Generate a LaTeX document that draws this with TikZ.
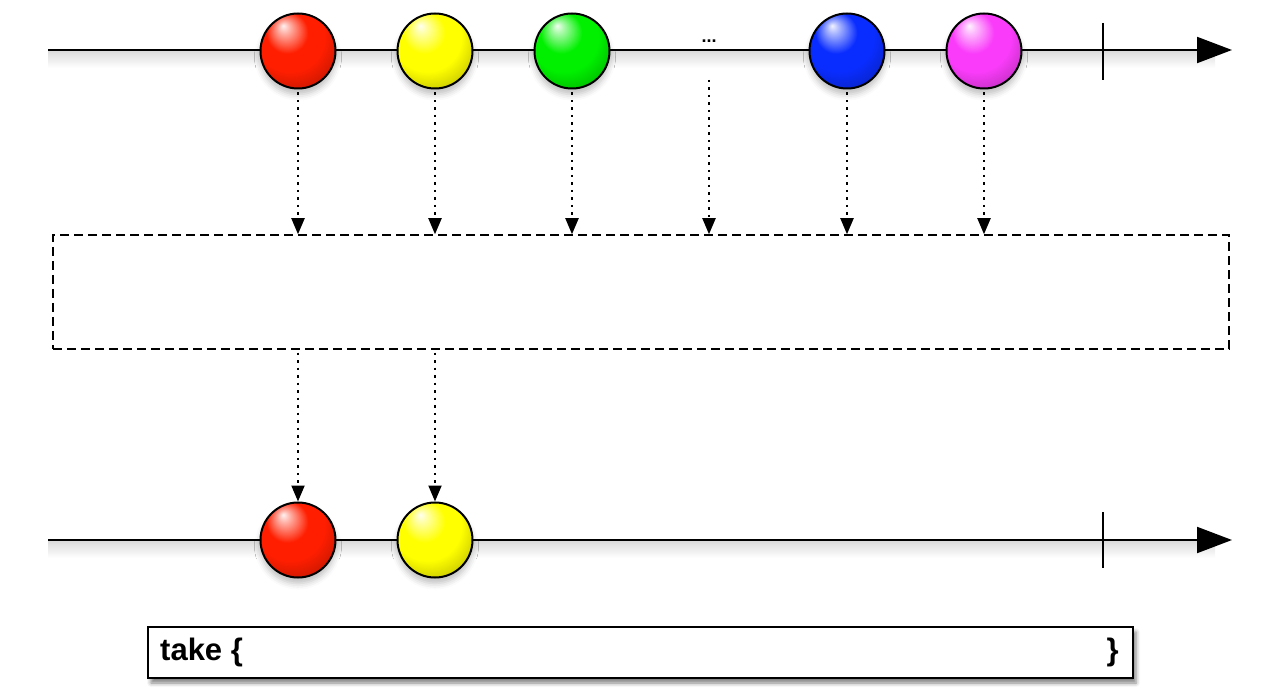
\documentclass[tikz,border=0pt]{standalone}
\usepackage{fontspec}
\setmainfont{Liberation Sans}
\usetikzlibrary{arrows.meta,shadows.blur}
\definecolor{mred}{RGB}{255,30,0}
\definecolor{myellow}{RGB}{255,255,0}
\definecolor{mgreen}{RGB}{0,240,0}
\definecolor{mblue}{RGB}{10,45,255}
\definecolor{mmagenta}{RGB}{250,60,250}
\newcommand\mkmarbleshade[2]{%
  \colorlet{#2L1}{#2!6!white}\colorlet{#2L2}{#2!35!white}%
  \colorlet{#2D1}{#2!80!black}\colorlet{#2D2}{#2!62!black}\colorlet{#2D3}{#2!45!black}%
  \pgfdeclareradialshading{#1}{\pgfpoint{-10bp}{17bp}}{%
    color(0bp)=(#2L1); color(4bp)=(#2L2); color(14bp)=(#2);
    color(23bp)=(#2); color(33bp)=(#2D1); color(41bp)=(#2D2); color(50bp)=(#2D3)}}
\mkmarbleshade{shred}{mred}
\mkmarbleshade{shyellow}{myellow}
\mkmarbleshade{shgreen}{mgreen}
\mkmarbleshade{shblue}{mblue}
\mkmarbleshade{shmagenta}{mmagenta}
\begin{document}
\begin{tikzpicture}[x=1pt,y=-1pt,
  timeline/.style={line width=2pt,-{Triangle[length=35pt,width=26pt]}},
  tickmark/.style={line width=2pt},
  lineshadow/.style={top color=black!14,bottom color=white,draw=none},
  marble/.style={circle,draw=black,line width=2pt,minimum size=75pt,inner sep=0pt,
    blur shadow={shadow xshift=0pt,shadow yshift=-6pt,shadow blur radius=6pt,shadow opacity=25}},
  flow/.style={line width=2pt,dash pattern=on 2.5pt off 5pt,-{Triangle[length=16pt,width=13pt]}},
  opbox/.style={draw=black,line width=1.5pt,dash pattern=on 9pt off 5pt,minimum width=1176pt,minimum height=114pt,inner sep=0pt},
  labelbox/.style={draw=black,line width=2pt,fill=white,minimum width=985pt,minimum height=51pt,inner sep=0pt,
    blur shadow={shadow xshift=3pt,shadow yshift=-5pt,shadow blur radius=4pt,shadow opacity=50}},
  labeltext/.style={font=\bfseries\fontsize{31}{34}\selectfont,inner sep=0pt}
]
\useasboundingbox (0,0) rectangle (1280,700);
% timeline shadows
\shade[lineshadow] (48,51) rectangle (1215,68);
\shade[lineshadow] (48,541) rectangle (1215,558);
% top timeline
\coordinate (ts) at (48,50);
\coordinate (te) at (1232,50);
\draw[timeline] (ts) -- (te);
\coordinate (tt1) at (1103,23);
\coordinate (tt2) at (1103,80);
\draw[tickmark] (tt1) -- (tt2);
% bottom timeline
\coordinate (bs) at (48,540);
\coordinate (be) at (1232,540);
\draw[timeline] (bs) -- (be);
\coordinate (bt1) at (1103,512);
\coordinate (bt2) at (1103,568);
\draw[tickmark] (bt1) -- (bt2);
% top marbles
\node[marble,shading=shred] (a1) at (298,51) {};
\node[marble,shading=shyellow] (a2) at (435,51) {};
\node[marble,shading=shgreen] (a3) at (572,51) {};
\node[font=\bfseries\fontsize{18}{18}\selectfont,inner sep=0pt] (dots) at (709,41) {...};
\coordinate (a4) at (709,80);
\node[marble,shading=shblue] (a5) at (847,51) {};
\node[marble,shading=shmagenta] (a6) at (984,51) {};
% operator box
\node[opbox] (op) at (641,292) {};
% arrows into box
\foreach \n in {a1,a2,a3,a5,a6}
  \draw[flow,shorten <=3pt] (\n.south) -- (\n.south |- op.north);
\draw[flow] (a4) -- (a4 |- op.north);
% bottom marbles
\node[marble,shading=shred] (b1) at (298,540) {};
\node[marble,shading=shyellow] (b2) at (435,540) {};
\draw[flow,shorten <=3pt] (b1 |- op.south) -- (b1.north);
\draw[flow,shorten <=3pt] (b2 |- op.south) -- (b2.north);
% label box
\node[labelbox] (lbl) at (640.5,652.5) {};
\node[labeltext,anchor=west] (take) at (160,652) {take \{};
\node[labeltext,anchor=east] (close) at (1119,652) {\}};
\end{tikzpicture}
\end{document}
